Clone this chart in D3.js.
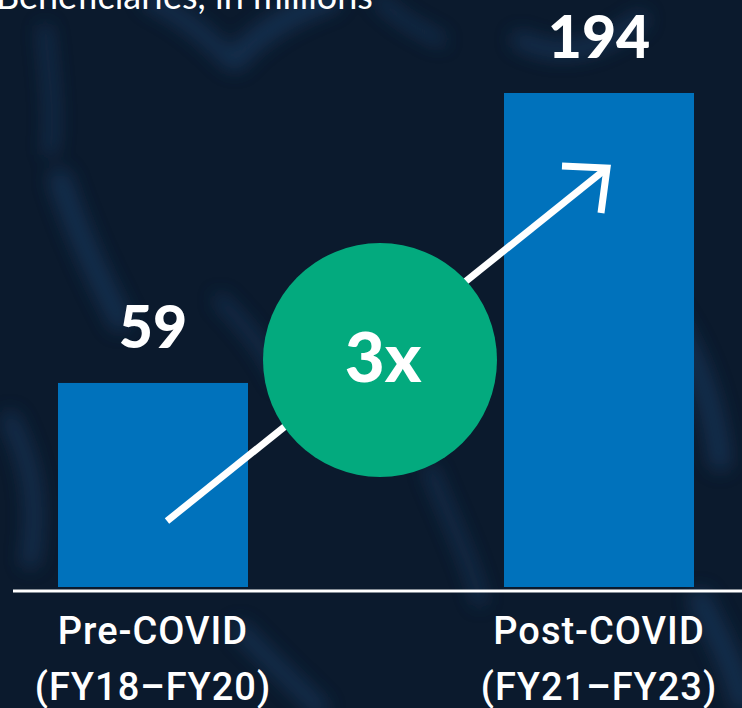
<!DOCTYPE html>
<html>
<head>
<meta charset="utf-8">
<script src="https://cdn.jsdelivr.net/npm/d3@7"></script>
<style>
    html, body { margin: 0; padding: 0; background: #0b1a2d; }
    svg { display: block; }
</style>
</head>
<body>
<div id="chart"></div>
<script>
// Data
const categories = ['Pre-COVID', 'Post-COVID'];
const periods = ['(FY18–FY20)', '(FY21–FY23)'];
const beneficiaries = [59, 194];
const multiplier = '3x';
const title = 'Beneficiaries, in millions';

const width = 742;
const height = 708;

const colors = {
    bg: '#0b1a2d',
    bar: '#0072bc',
    circle: '#03aa7e',
    text: '#ffffff'
};

const svg = d3.select('#chart')
    .append('svg')
    .attr('width', width)
    .attr('height', height);

// Background with a few soft blurred strokes for the photo texture
const defs = svg.append('defs');
defs.append('filter')
    .attr('id', 'blur')
    .attr('x', '-20%').attr('y', '-20%')
    .attr('width', '140%').attr('height', '140%')
    .append('feGaussianBlur')
    .attr('stdDeviation', 9);

svg.append('rect')
    .attr('width', width)
    .attr('height', height)
    .attr('fill', colors.bg);

const texture = svg.append('g')
    .attr('filter', 'url(#blur)')
    .attr('fill', 'none')
    .attr('stroke', '#1f4068')
    .attr('stroke-linecap', 'round')
    .attr('opacity', 0.55);

[
    'M45,30 C50,80 55,120 50,150',
    'M150,0 C190,20 210,40 230,60',
    'M235,60 C260,30 300,10 330,0',
    'M380,0 C400,20 420,30 440,40',
    'M520,40 C560,60 600,50 640,20',
    'M60,180 C80,240 100,280 120,320',
    'M220,300 C250,330 270,360 280,380',
    'M10,420 C30,460 40,500 30,560',
    'M640,280 C680,320 710,380 720,460',
    'M430,470 C450,520 470,560 480,600',
    'M240,630 C270,660 300,690 320,708',
    'M700,600 C720,640 735,670 742,700'
].forEach((d, i) => {
    texture.append('path')
        .attr('d', d)
        .attr('stroke-width', 12 + (i % 3) * 5);
});

// Scales
const xScale = d3.scaleBand()
    .domain(categories)
    .range([58, 694])
    .paddingInner(0.574)
    .paddingOuter(0);

const baseline = 587;
const yScale = d3.scaleLinear()
    .domain([-36, 194])
    .range([baseline, 93]);

// Title (cropped at top, as in the source image)
svg.append('text')
    .attr('x', -4)
    .attr('y', 9)
    .attr('fill', colors.text)
    .style('font-family', 'Lato, sans-serif')
    .style('font-weight', 400)
    .style('font-size', '36px')
    .text(title);

// Bars
svg.selectAll('.bar')
    .data(beneficiaries)
    .enter()
    .append('rect')
    .attr('class', 'bar')
    .attr('x', (d, i) => xScale(categories[i]))
    .attr('y', d => yScale(d))
    .attr('width', xScale.bandwidth())
    .attr('height', d => baseline - yScale(d))
    .attr('fill', colors.bar);

// Value labels
svg.selectAll('.value-label')
    .data(beneficiaries)
    .enter()
    .append('text')
    .attr('class', 'value-label')
    .attr('x', (d, i) => xScale(categories[i]) + xScale.bandwidth() / 2)
    .attr('y', d => yScale(d) - 35)
    .attr('text-anchor', 'middle')
    .attr('fill', colors.text)
    .style('font-family', 'Lato, sans-serif')
    .style('font-weight', 900)
    .style('font-size', '59px')
    .text(d => d);

// Baseline axis line
svg.append('line')
    .attr('x1', 13)
    .attr('x2', width)
    .attr('y1', 591)
    .attr('y2', 591)
    .attr('stroke', colors.text)
    .attr('stroke-width', 3);

// Category labels
const catLabels = svg.selectAll('.cat-label')
    .data(categories)
    .enter()
    .append('text')
    .attr('class', 'cat-label')
    .attr('text-anchor', 'middle')
    .attr('fill', colors.text)
    .style('font-family', 'Roboto, sans-serif')
    .style('font-weight', 500)
    .style('font-size', '38px')
    .style('letter-spacing', '1px');

catLabels.append('tspan')
    .attr('x', d => xScale(d) + xScale.bandwidth() / 2)
    .attr('y', 644)
    .text(d => d);

catLabels.append('tspan')
    .attr('x', d => xScale(d) + xScale.bandwidth() / 2)
    .attr('y', 700)
    .text((d, i) => periods[i]);

// Growth arrow
const arrow = svg.append('g')
    .attr('stroke', colors.text)
    .attr('stroke-width', 7)
    .attr('fill', 'none');

const start = [167, 521];
const tip = [607, 168];

arrow.append('line')
    .attr('x1', start[0]).attr('y1', start[1])
    .attr('x2', tip[0]).attr('y2', tip[1]);

arrow.append('polyline')
    .attr('points', [[562, 166], tip, [601, 213]].map(p => p.join(',')).join(' '));

// Multiplier badge
svg.append('circle')
    .attr('cx', 380)
    .attr('cy', 360)
    .attr('r', 117)
    .attr('fill', colors.circle);

svg.append('text')
    .attr('x', 383)
    .attr('y', 382)
    .attr('text-anchor', 'middle')
    .attr('fill', colors.text)
    .style('font-family', 'Lato, sans-serif')
    .style('font-weight', 900)
    .style('font-size', '69px')
    .text(multiplier);
</script>
</body>
</html>
